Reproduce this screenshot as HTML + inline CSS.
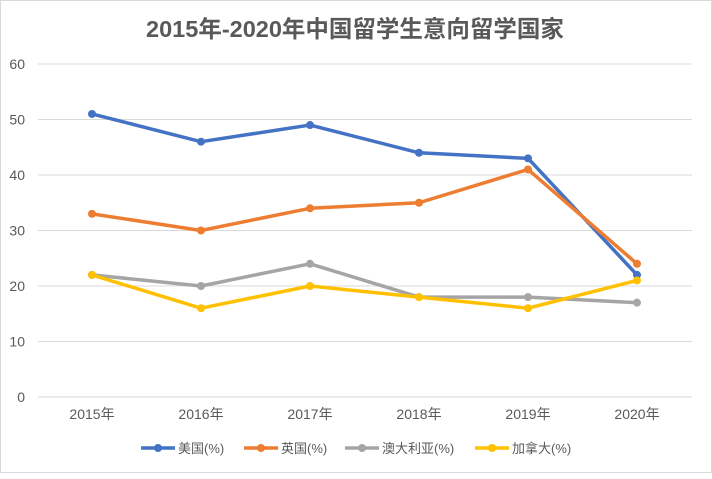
<!DOCTYPE html>
<html><head><meta charset="utf-8"><style>
body{margin:0;background:#fff;font-family:"Liberation Sans","Noto Sans CJK SC",sans-serif}
#wrap{position:relative;width:712px;height:473px;border:1px solid #d9d9d9;box-sizing:border-box}
</style></head><body>
<div id="wrap">
<svg id="c" width="712" height="473"></svg>
</div>
<script>
const years=["2015年","2016年","2017年","2018年","2019年","2020年"];
const usa=[51,46,49,44,43,22];
const uk=[33,30,34,35,41,24];
const aus=[22,20,24,18,18,17];
const can=[22,16,20,18,16,21];
const yTicks=[0,10,20,30,40,50,60];
const names=["美国(%)","英国(%)","澳大利亚(%)","加拿大(%)"];
const colors=["#4472c4","#ed7d31","#a5a5a5","#ffc000"];
const series=[usa,uk,aus,can];
const NS="http://www.w3.org/2000/svg";
const svg=document.getElementById('c');
function X(i){return 91+i*109;}
function Y(v){return 396-v*(333/60);}
function mk(t,a,p){const e=document.createElementNS(NS,t);for(const k in a)e.setAttribute(k,a[k]);(p||svg).appendChild(e);return e;}
let t=mk('text',{x:354,y:36,'text-anchor':'middle','font-size':23.5,'font-weight':'bold',fill:'#595959'});


t.textContent="2015年-2020年中国留学生意向留学国家";
yTicks.forEach(v=>{
 const l=mk('line',{x1:37,x2:691,y1:Y(v),y2:Y(v),stroke:'#d9d9d9','stroke-width':1});
 
 
 const tx=mk('text',{x:24,y:Y(v)+5,'text-anchor':'end','font-size':14,fill:'#595959'});
 
 
 tx.textContent=v;
});
years.forEach((y,i)=>{
 const tx=mk('text',{x:X(i),y:418,'text-anchor':'middle','font-size':14,fill:'#595959'});
 
 
 tx.textContent=y;
});
series.forEach((s,k)=>{
 const g=mk('g',{});
 
 
 const pl=mk('polyline',{points:s.map((v,i)=>X(i)+','+Y(v)).join(' '),fill:'none',stroke:colors[k],'stroke-width':3.5,'stroke-linejoin':'round'},g);
 
 
 s.forEach((v,i)=>{
  const c=mk('circle',{cx:X(i),cy:Y(v),r:4,fill:colors[k]},g);
  
  
 });
});
const lx=[140,243,344,474];
names.forEach((n,k)=>{
 const g=mk('g',{});
 
 
 mk('line',{x1:lx[k],x2:lx[k]+34,y1:447,y2:447,stroke:colors[k],'stroke-width':3.5},g);
 mk('circle',{cx:lx[k]+17,cy:447,r:4,fill:colors[k]},g);
 const tx=mk('text',{x:lx[k]+37,y:452,'font-size':13,fill:'#595959'},g);
 tx.textContent=n;
});
</script>
</body></html>
